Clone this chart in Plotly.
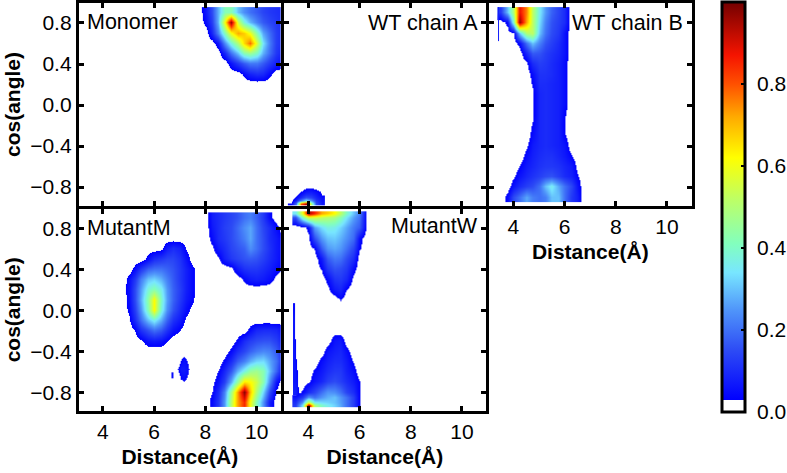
import plotly.graph_objects as go

W, H = 787, 473
FONT = "Liberation Sans"

x_ticks = [4, 6, 8, 10]
y_ticks = [0.8, 0.4, 0.0, -0.4, -0.8]
y_labels = ["0.8", "0.4", "0.0", "\u22120.4", "\u22120.8"]
cbar_ticks = [0.0, 0.2, 0.4, 0.6, 0.8]
cbar_labels = ["\u00a00.0", "\u00a00.2", "\u00a00.4", "\u00a00.6", "\u00a00.8"]
panel_names = ["Monomer", "WT chain A", "WT chain B", "MutantM", "MutantW"]

color_stops = [
    [0.0, "rgba(255,255,255,0)"], [0.03, "rgba(255,255,255,0)"],
    [0.03, "rgb(0,0,255)"], [0.15, "rgb(45,75,245)"], [0.25, "rgb(80,150,250)"],
    [0.34, "rgb(120,230,255)"], [0.41, "rgb(130,255,190)"], [0.52, "rgb(190,255,100)"],
    [0.62, "rgb(255,255,0)"], [0.72, "rgb(255,170,0)"], [0.8, "rgb(255,80,0)"],
    [0.87, "rgb(245,20,0)"], [1.0, "rgb(115,0,0)"],
]

# ---- Monomer
mono_x = [7.75, 8, 8.25, 8.5, 8.75, 9, 9.25, 9.5, 9.75, 10, 10.25, 10.5, 10.75, 11]
mono_y = [0.905, 0.805, 0.705, 0.605, 0.505, 0.405, 0.305, 0.205]
mono_z = [
    [0, .07, .15, .28, .42, .42, .3, .24, .2, .17, .14, .12, .11, .1],
    [0, .05, .13, .28, .62, .97, .55, .38, .29, .22, .17, .14, .12, .1],
    [0, 0, .09, .22, .42, .6, .72, .68, .6, .42, .27, .19, .13, .1],
    [0, 0, 0, .06, .24, .37, .5, .66, .78, .56, .34, .21, .13, .1],
    [0, 0, 0, 0, .09, .2, .3, .42, .46, .4, .28, .19, .12, .08],
    [0, 0, 0, 0, 0, .06, .12, .17, .21, .21, .17, .12, .08, .05],
    [0, 0, 0, 0, 0, 0, 0, .04, .08, .1, .09, .04, 0, 0],
    [0, 0, 0, 0, 0, 0, 0, 0, 0, 0, 0, 0, 0, 0],
]

# ---- WT chain A
wta_x = [3.3, 3.5, 3.7, 3.9, 4.1, 4.3, 4.53]
wta_y = [-.78, -.81, -.84, -.87, -.90, -.93, -.96]
wta_z = [
    [0, 0, 0, 0, 0, 0, 0],
    [0, 0, 0, .035, .04, .02, 0],
    [0, 0, .03, .06, .07, .05, .02],
    [0, .02, .06, .1, .1, .07, .025],
    [0, .04, .1, .16, .14, .09, .05],
    [.01, .08, .22, .35, .25, .12, .06],
    [.035, .2, .8, .95, .5, .15, .07],
]

# ---- WT chain B
wtb_x = [3.5, 3.75, 4, 4.25, 4.5, 4.75, 5, 5.25, 5.5, 5.75, 6, 6.25, 6.5, 6.75]
wtb_y = [.905, .805, .705, .605, .505, .405, .305, .205, .105, .005,
         -.095, -.195, -.295, -.395, -.495, -.595, -.695, -.795, -.895]
wtb_z = [
    [.12, .3, .5, .88, .75, .52, .35, .25, .18, .14, .1, 0, 0, 0],
    [0, .05, .4, .97, .72, .52, .33, .22, .16, .13, .1, 0, 0, 0],
    [0, 0, .01, .3, .5, .52, .3, .2, .15, .12, .06, 0, 0, 0],
    [0, 0, 0, .05, .2, .3, .22, .16, .13, .1, .06, 0, 0, 0],
    [0, 0, 0, 0, .09, .17, .16, .13, .11, .09, .06, 0, 0, 0],
    [0, 0, 0, 0, .02, .1, .13, .12, .1, .08, .05, 0, 0, 0],
    [0, 0, 0, 0, 0, .05, .11, .11, .1, .08, .05, 0, 0, 0],
    [0, 0, 0, 0, 0, .035, .1, .1, .09, .08, .05, 0, 0, 0],
    [0, 0, 0, 0, 0, .02, .09, .1, .09, .08, .05, 0, 0, 0],
    [0, 0, 0, 0, 0, .02, .09, .1, .09, .08, .05, 0, 0, 0],
    [0, 0, 0, 0, 0, .02, .09, .1, .09, .08, .035, 0, 0, 0],
    [0, 0, 0, 0, 0, .035, .09, .1, .09, .08, .032, 0, 0, 0],
    [0, 0, 0, 0, 0, .05, .09, .1, .09, .08, .035, 0, 0, 0],
    [0, 0, 0, 0, .02, .07, .09, .1, .09, .08, .06, 0, 0, 0],
    [0, 0, 0, 0, .05, .08, .1, .11, .11, .09, .07, .035, 0, 0],
    [0, 0, 0, .03, .07, .09, .11, .12, .12, .11, .09, .07, .015, 0],
    [0, 0, .02, .06, .09, .11, .13, .15, .16, .13, .1, .08, .035, 0],
    [0, 0, .06, .1, .13, .15, .2, .3, .36, .27, .2, .14, .06, 0],
    [0, .05, .15, .2, .27, .22, .2, .22, .3, .3, .2, .12, .08, 0],
]
wtb_line_x = [3.41, 3.43]
wtb_line_y = [.905, .805, .705, .65]
wtb_line_z = [[.08, .08], [.08, .08], [.08, .08], [.08, .08]]

# ---- MutantM, upper right lobe
mma_x = [8, 8.25, 8.5, 8.75, 9, 9.25, 9.5, 9.75, 10, 10.25, 10.5, 10.75, 11]
mma_y = [.905, .805, .705, .605, .505, .405, .305, .205]
mma_z = [
    [0, .08, .1, .12, .14, .16, .2, .22, .18, .12, .05, 0, 0],
    [0, .07, .1, .13, .15, .19, .24, .27, .2, .14, .1, .05, 0],
    [0, .05, .1, .12, .15, .18, .22, .27, .2, .15, .1, .07, .04],
    [0, .02, .07, .1, .14, .16, .18, .24, .2, .15, .11, .07, .05],
    [0, 0, .02, .08, .12, .14, .16, .17, .16, .13, .1, .07, .04],
    [0, 0, 0, 0, .015, .07, .11, .12, .12, .1, .08, .05, .03],
    [0, 0, 0, 0, 0, 0, .04, .07, .08, .07, .05, .015, 0],
    [0, 0, 0, 0, 0, 0, 0, 0, 0, 0, 0, 0, 0],
]

# ---- MutantM, central lobe
mmb_x = [4.75, 5, 5.25, 5.5, 5.75, 6, 6.25, 6.5, 6.75, 7, 7.25, 7.5, 7.75]
mmb_y = [.705, .605, .505, .405, .305, .205, .105, .005, -.095, -.195, -.295, -.395]
mmb_z = [
    [0, 0, 0, 0, 0, 0, 0, 0, 0, 0, 0, 0, 0],
    [0, 0, 0, 0, 0, 0, .01, .07, .1, .08, .025, 0, 0],
    [0, 0, 0, 0, .05, .1, .12, .14, .14, .11, .06, 0, 0],
    [0, 0, .05, .12, .18, .2, .2, .18, .16, .12, .08, .04, 0],
    [0, .05, .12, .22, .3, .32, .28, .22, .17, .12, .08, .04, 0],
    [0, .055, .15, .26, .38, .42, .36, .25, .18, .13, .08, .04, 0],
    [0, .05, .15, .28, .44, .62, .4, .26, .18, .12, .07, .035, 0],
    [0, .04, .13, .25, .42, .62, .38, .24, .16, .1, .05, .01, 0],
    [0, .02, .1, .2, .3, .36, .28, .18, .11, .07, .02, 0, 0],
    [0, 0, .035, .11, .16, .2, .17, .11, .06, .03, 0, 0, 0],
    [0, 0, 0, .02, .06, .07, .06, .03, 0, 0, 0, 0, 0],
    [0, 0, 0, 0, 0, 0, 0, 0, 0, 0, 0, 0, 0],
]

# ---- MutantM, small islands
mmc_x = [6.85, 6.95, 7.05, 7.15, 7.25, 7.35, 7.45]
mmc_y = [-.42, -.47, -.52, -.57, -.62, -.67, -.72]
mmc_z = [
    [0, 0, 0, 0, 0, 0, 0],
    [0, 0, .02, .05, .02, 0, 0],
    [0, .01, .05, .06, .05, .01, 0],
    [0, .05, .07, .07, .06, .03, 0],
    [0, .02, .05, .06, .05, .01, 0],
    [0, 0, .03, .05, .02, 0, 0],
    [0, 0, 0, 0, 0, 0, 0],
]
mmd_x = [6.69, 6.72]
mmd_y = [-.62, -.65]
mmd_z = [[.05, .05], [.05, .05]]

# ---- MutantM, lower right lobe
mme_x = [8, 8.25, 8.5, 8.75, 9, 9.25, 9.5, 9.75, 10, 10.25, 10.5, 10.75, 11]
mme_y = [-.095, -.195, -.295, -.395, -.495, -.595, -.695, -.795, -.895]
mme_z = [
    [0, 0, 0, 0, 0, 0, 0, 0, 0, 0, 0, 0, 0],
    [0, 0, 0, 0, 0, 0, 0, .05, .09, .1, .1, .09, .06],
    [0, 0, 0, 0, 0, .04, .1, .13, .15, .16, .16, .13, .08],
    [0, 0, 0, 0, .045, .1, .14, .18, .21, .23, .22, .17, .1],
    [0, 0, 0, .04, .1, .17, .22, .28, .32, .33, .27, .2, .1],
    [0, 0, .03, .09, .17, .28, .37, .45, .47, .42, .3, .18, .06],
    [0, .015, .06, .13, .28, .45, .65, .62, .55, .42, .24, .06, 0],
    [0, .03, .1, .22, .48, .72, .98, .68, .5, .32, .15, .02, 0],
    [0, .05, .12, .25, .52, .72, .85, .6, .42, .24, .08, 0, 0],
]

# ---- MutantW, upper lobe
mwa_x = [3.5, 3.75, 4, 4.25, 4.5, 4.75, 5, 5.25, 5.5, 5.75, 6, 6.25, 6.5]
mwa_y = [.945, .905, .805, .705, .605, .505, .405, .305, .205, .105, .005]
mwa_z = [
    [.35, .6, .95, .85, .72, .68, .62, .52, .4, .3, .22, .025, 0],
    [.15, .4, .55, .55, .52, .5, .48, .42, .34, .26, .2, .025, 0],
    [0, 0, .05, .26, .33, .37, .36, .32, .27, .21, .17, .02, 0],
    [0, 0, .015, .15, .25, .3, .31, .28, .24, .19, .05, 0, 0],
    [0, 0, 0, .035, .17, .25, .27, .25, .2, .14, .035, 0, 0],
    [0, 0, 0, 0, .07, .17, .21, .2, .15, .1, 0, 0, 0],
    [0, 0, 0, 0, .035, .12, .16, .15, .12, .05, 0, 0, 0],
    [0, 0, 0, 0, 0, .045, .11, .12, .09, .015, 0, 0, 0],
    [0, 0, 0, 0, 0, .015, .07, .09, .03, 0, 0, 0, 0],
    [0, 0, 0, 0, 0, 0, 0, .035, 0, 0, 0, 0, 0],
    [0, 0, 0, 0, 0, 0, 0, 0, 0, 0, 0, 0, 0],
]

# ---- MutantW, lower lobe
mwb_x = [3.5, 3.75, 4, 4.25, 4.5, 4.75, 5, 5.25, 5.5, 5.75, 6, 6.25]
mwb_y = [-.195, -.295, -.395, -.495, -.595, -.695, -.795, -.845, -.895, -.93]
mwb_z = [
    [0, 0, 0, 0, 0, 0, 0, 0, 0, 0, 0, 0],
    [0, 0, 0, 0, 0, 0, .06, .07, 0, 0, 0, 0],
    [0, 0, 0, 0, 0, .06, .08, .09, .05, 0, 0, 0],
    [0, 0, 0, 0, .05, .08, .1, .1, .07, .025, 0, 0],
    [0, 0, 0, .04, .07, .1, .12, .12, .08, .05, 0, 0],
    [0, 0, .02, .06, .09, .13, .15, .13, .1, .07, .03, 0],
    [0, .04, .1, .14, .2, .25, .24, .2, .14, .1, .032, 0],
    [.06, .12, .25, .2, .25, .28, .3, .25, .2, .13, .032, 0],
    [.1, .25, .55, .35, .33, .32, .3, .26, .2, .13, .032, 0],
    [.12, .35, .95, .5, .4, .36, .32, .27, .2, .13, .032, 0],
]

# ---- MutantW, narrow spike on the left
mwc_x = [3.43, 3.49, 3.55, 3.61, 3.67]
mwc_y = [.02, -.08, -.18, -.28, -.38, -.48, -.58, -.68, -.78]
mwc_z = [
    [.045, 0, 0, 0, 0],
    [.06, 0, 0, 0, 0],
    [.06, .02, 0, 0, 0],
    [.06, .03, 0, 0, 0],
    [.06, .045, 0, 0, 0],
    [.06, .05, .01, 0, 0],
    [.06, .06, .03, 0, 0],
    [.06, .06, .05, .01, 0],
    [.08, .08, .06, .04, 0],
]

# panel interiors in pixels (left, right, top, bottom) and the data ranges they show
panels = [
    (78.8, 280.8, 3.2, 205.8, [3.06, 10.94], [-.983, .993]),
    (283.8, 485.8, 3.2, 205.8, [3.04, 10.93], [-.983, .993]),
    (488.8, 691.8, 3.2, 205.8, [3.04, 10.97], [-.983, .993]),
    (78.8, 280.8, 208.8, 410.8, [3.06, 10.94], [-.98, .99]),
    (283.8, 485.8, 208.8, 410.8, [3.04, 10.93], [-.98, .99]),
]
blobs = [
    (0, mono_x, mono_y, mono_z), (1, wta_x, wta_y, wta_z),
    (2, wtb_x, wtb_y, wtb_z), (2, wtb_line_x, wtb_line_y, wtb_line_z),
    (3, mma_x, mma_y, mma_z), (3, mmb_x, mmb_y, mmb_z), (3, mmc_x, mmc_y, mmc_z),
    (3, mmd_x, mmd_y, mmd_z), (3, mme_x, mme_y, mme_z),
    (4, mwa_x, mwa_y, mwa_z), (4, mwb_x, mwb_y, mwb_z), (4, mwc_x, mwc_y, mwc_z),
]

fig = go.Figure()
for idx, xs, ys, zs in blobs:
    s = "" if idx == 0 else str(idx + 1)
    fig.add_trace(go.Heatmap(x=xs, y=ys, z=zs, xaxis="x" + s, yaxis="y" + s,
                             coloraxis="coloraxis", zsmooth="best", hoverinfo="skip"))

layout = dict(
    width=W, height=H, paper_bgcolor="white", plot_bgcolor="white",
    margin=dict(l=0, r=0, t=0, b=0, autoexpand=False),
    font=dict(family=FONT, size=21, color="black"), showlegend=False,
    coloraxis=dict(
        colorscale=color_stops, cmin=0, cmax=1,
        colorbar=dict(
            x=722 / W, xanchor="left", xpad=0, y=(H - 412) / H, yanchor="bottom", ypad=0,
            len=410 / H, lenmode="fraction", thickness=23, thicknessmode="pixels",
            outlinewidth=3, outlinecolor="black", borderwidth=0,
            ticks="inside", ticklen=5, tickwidth=2, tickcolor="black",
            tickvals=cbar_ticks, ticktext=cbar_labels,
            tickfont=dict(family=FONT, size=21, color="black"),
        ),
    ),
)
title_font = dict(family=FONT, size=21, color="black", weight="bold")
for i, (l, r, t, b, xr, yr) in enumerate(panels):
    s = "" if i == 0 else str(i + 1)
    x_labelled = i >= 2
    y_labelled = i in (0, 3)
    layout["xaxis" + s] = dict(
        domain=[l / W, r / W], range=xr, anchor="y" + s, tickvals=x_ticks,
        ticks="inside", ticklen=5, tickwidth=2.5, tickcolor="black",
        showline=True, linewidth=3, linecolor="black", mirror="ticks", showgrid=False, zeroline=False,
        showticklabels=x_labelled, tickfont=dict(family=FONT, size=21),
        title=dict(text="Distance(Å)", font=title_font, standoff=8) if x_labelled else None,
    )
    layout["yaxis" + s] = dict(
        domain=[(H - b) / H, (H - t) / H], range=yr, anchor="x" + s,
        tickvals=y_ticks, ticktext=y_labels,
        ticks="inside", ticklen=5, tickwidth=2.5, tickcolor="black",
        showline=True, linewidth=3, linecolor="black", mirror="ticks", showgrid=False, zeroline=False,
        showticklabels=y_labelled, tickfont=dict(family=FONT, size=21),
        title=dict(text="cos(angle)", font=title_font, standoff=4) if y_labelled else None,
    )

fig.update_layout(**layout)

label_spots = [(3.3, "left", 0.81), (10.72, "right", 0.8), (10.72, "right", 0.8),
               (3.3, "left", 0.8), (10.72, "right", 0.82)]
for i, name in enumerate(panel_names):
    s = "" if i == 0 else str(i + 1)
    x0, anchor, y0 = label_spots[i]
    fig.add_annotation(x=x0, y=y0, xref="x" + s, yref="y" + s, text=name, showarrow=False,
                       xanchor=anchor, yanchor="middle", font=dict(family=FONT, size=21.5, color="black"))

fig.write_html("out.html", post_script="document.body.style.margin='0';",
               config={"displayModeBar": False})
